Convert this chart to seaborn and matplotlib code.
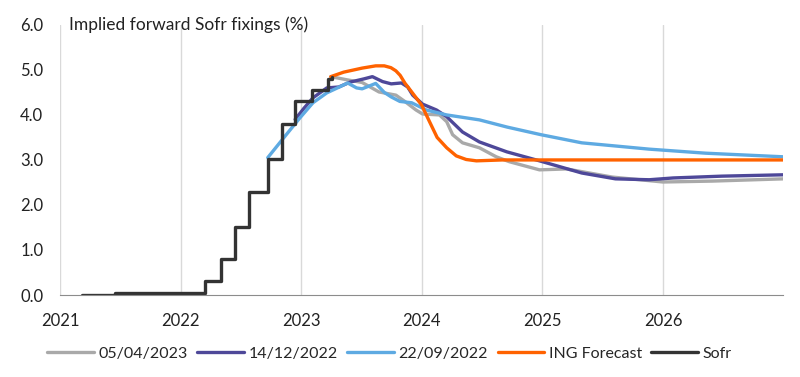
import matplotlib
matplotlib.use("Agg")
import matplotlib.pyplot as plt
import matplotlib.dates as mdates
import pandas as pd
import seaborn as sns

# Sofr fixings (step changes)
sofr_dates = ["2021-03-10", "2021-06-17", "2022-03-17", "2022-05-05", "2022-06-16",
              "2022-07-28", "2022-09-22", "2022-11-03", "2022-12-15", "2023-02-02",
              "2023-03-23", "2023-04-05"]
sofr_vals = [0.01, 0.05, 0.30, 0.80, 1.50, 2.28, 3.03, 3.80, 4.30, 4.55, 4.80, 4.85]

# implied forward curve 05/04/2023
fwd_0423_dates = ["2023-04-01", "2023-05-20", "2023-07-05", "2023-08-25", "2023-10-15",
                  "2023-11-13", "2023-12-15", "2024-01-04", "2024-02-24", "2024-03-17",
                  "2024-04-04", "2024-05-04", "2024-06-24", "2024-08-14", "2024-09-23",
                  "2024-12-23", "2025-03-15", "2025-07-31", "2026-01-01", "2026-05-30",
                  "2026-12-31"]
fwd_0423_vals = [4.85, 4.78, 4.72, 4.51, 4.44, 4.29, 4.11, 4.02, 4.00, 3.85,
                 3.56, 3.38, 3.27, 3.07, 2.96, 2.78, 2.80, 2.62, 2.51, 2.53, 2.58]

# implied forward curve 14/12/2022
fwd_1222_dates = ["2022-12-14", "2023-01-10", "2023-02-06", "2023-03-20", "2023-04-25",
                  "2023-05-30", "2023-07-10", "2023-08-05", "2023-09-05", "2023-10-01",
                  "2023-11-01", "2023-11-20", "2023-12-05", "2024-01-04", "2024-02-15",
                  "2024-03-17", "2024-05-04", "2024-06-24", "2024-09-15", "2024-12-23",
                  "2025-04-30", "2025-08-10", "2025-11-20", "2026-02-01", "2026-06-28",
                  "2026-12-31"]
fwd_1222_vals = [3.90, 4.15, 4.38, 4.60, 4.62, 4.73, 4.80, 4.85, 4.74, 4.69,
                 4.71, 4.62, 4.44, 4.24, 4.11, 3.96, 3.62, 3.40, 3.18, 2.98,
                 2.71, 2.58, 2.56, 2.60, 2.64, 2.67]

# implied forward curve 22/09/2022
fwd_0922_dates = ["2022-09-22", "2022-11-17", "2022-12-28", "2023-02-06", "2023-03-20",
                  "2023-04-27", "2023-05-22", "2023-06-18", "2023-07-05", "2023-08-15",
                  "2023-09-10", "2023-10-01", "2023-10-27", "2023-12-02", "2024-01-15",
                  "2024-03-17", "2024-06-24", "2024-09-16", "2024-12-28", "2025-04-30",
                  "2025-11-20", "2026-05-10", "2026-12-31"]
fwd_0922_vals = [3.05, 3.56, 3.93, 4.27, 4.49, 4.62, 4.71, 4.60, 4.58, 4.70,
                 4.50, 4.40, 4.30, 4.27, 4.11, 4.00, 3.89, 3.73, 3.56, 3.38,
                 3.24, 3.15, 3.07]

# ING forecast
ing_dates = ["2023-04-01", "2023-05-10", "2023-07-05", "2023-08-15", "2023-09-10",
             "2023-09-30", "2023-10-15", "2023-10-28", "2023-11-12", "2023-12-01",
             "2024-01-01", "2024-01-25", "2024-02-17", "2024-03-17", "2024-04-15",
             "2024-05-15", "2024-06-15", "2024-09-01", "2026-12-31"]
ing_vals = [4.85, 4.95, 5.04, 5.09, 5.09, 5.05, 4.98, 4.88, 4.70, 4.52,
            4.22, 3.85, 3.50, 3.27, 3.09, 3.01, 2.98, 3.00, 3.00]

series = [
    ("05/04/2023", fwd_0423_dates, fwd_0423_vals, "#a9a9a9"),
    ("14/12/2022", fwd_1222_dates, fwd_1222_vals, "#4e4899"),
    ("22/09/2022", fwd_0922_dates, fwd_0922_vals, "#5eaae2"),
    ("ING Forecast", ing_dates, ing_vals, "#ff6200"),
]

sns.set_style("white")
plt.rcParams['font.family'] = ['Lato', 'DejaVu Sans']

fig = plt.figure(figsize=(8, 3.77), dpi=100)
ax = fig.add_axes([0.075, 0.2175, 0.904, 0.7165])

for name, d, v, c in series:
    sns.lineplot(x=pd.to_datetime(d), y=v, ax=ax, color=c, lw=2.4, label=name)
sns.lineplot(x=pd.to_datetime(sofr_dates), y=sofr_vals, ax=ax, color="#333333",
             lw=2.4, label="Sofr", drawstyle="steps-post")

ax.set_xlim(pd.Timestamp("2021-01-01"), pd.Timestamp("2026-12-31"))
ax.set_ylim(0, 6)
ax.set_yticks([0, 1, 2, 3, 4, 5, 6])
ax.set_yticklabels([f"{t:.1f}" for t in [0, 1, 2, 3, 4, 5, 6]])
ax.xaxis.set_major_locator(mdates.YearLocator())
ax.xaxis.set_major_formatter(mdates.DateFormatter("%Y"))
ax.set_xlabel("")
ax.set_ylabel("")

ax.grid(axis="x", color="#d9d9d9", lw=1)
ax.set_axisbelow(True)
for s in ["top", "right", "left"]:
    ax.spines[s].set_visible(False)
ax.spines["bottom"].set_color("#8c8c8c")
ax.tick_params(axis="x", length=5, color="#8c8c8c", labelsize=12, pad=8, colors="#222222")
ax.tick_params(axis="y", length=0, labelsize=12, pad=12, colors="#222222")

ax.text(0.012, 1.0, "Implied forward Sofr fixings (%)", transform=ax.transAxes,
        fontsize=12.5, va="center", ha="left", color="#222222")

handles, labels = ax.get_legend_handles_labels()
ax.get_legend().remove()
fig.legend(handles, labels, loc="center", bbox_to_anchor=(0.487, 0.062), ncol=5,
           frameon=False, fontsize=11.5, handlelength=2.9, handletextpad=0.3,
           columnspacing=0.6)

fig.savefig("out.png", dpi=100)
